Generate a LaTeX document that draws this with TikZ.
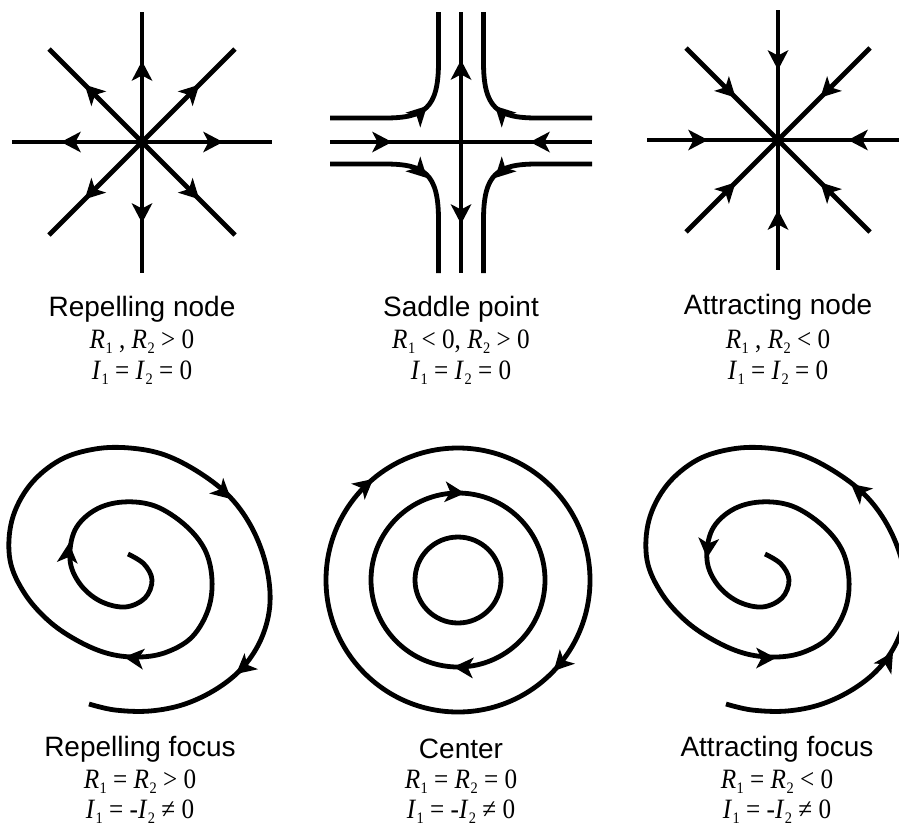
\documentclass[tikz,border=0pt]{standalone}
\usepackage{fontspec}
\setmainfont{Liberation Serif}
\newfontfamily\labelsans{Liberation Sans}
\newcommand{\sv}[2]{\textit{#1}\kern0.02em\raisebox{-0.2em}{\fontsize{16}{16}\selectfont #2}}
\newcommand{\cond}[1]{\scalebox{0.9}[1]{#1}}
\tikzset{
  flow/.style={line width=4.8pt},
  ahead/.pic={\fill (0,0) -- (-20,10.5) -- (-14.5,0) -- (-20,-10.5) -- cycle;},
  spiral/.pic={\draw[flow] plot[smooth, tension=0.6] coordinates {
    (-12,-26) (4,-16) (12,0) (5,18) (-15,27) (-40,21) (-60,4) (-70,-20) (-65,-50)
    (-45,-70) (-17,-78) (15,-74) (45,-55) (65,-30) (72,0) (68,30) (52,57) (27,72)
    (0,77) (-30,74) (-60,62) (-90,42) (-115,14) (-130,-20) (-128,-60) (-110,-95)
    (-80,-120) (-45,-131) (-10,-132) (25,-125) (60,-107) (90,-83) (112,-52)
    (126,-15) (130,23) (122,57) (104,86) (78,108) (45,124) (10,131) (-25,130) (-51,124)};},
  ttl/.style={anchor=base, inner sep=0pt, font=\labelsans\fontsize{28}{28}\selectfont},
  cnd/.style={anchor=base, inner sep=0pt, font=\fontsize{28}{28}\selectfont},
}
\begin{document}
\begin{tikzpicture}[x=1pt,y=-1pt]
\useasboundingbox (0,0) rectangle (899,828);
\clip (0,0) rectangle (899,828);

% ---------- Repelling node ----------
\coordinate (rn) at (142,142);
\draw[flow] (12,142) -- (272,142);
\draw[flow] (142,12) -- (142,273);
\draw[flow] (49,49) -- (235,235);
\draw[flow] (49,235) -- (235,49);
\pic[rotate=0]   at (223,142) {ahead};
\pic[rotate=45]  at (199.3,84.7) {ahead};
\pic[rotate=90]  at (142,61) {ahead};
\pic[rotate=135] at (84.7,84.7) {ahead};
\pic[rotate=180] at (61,142) {ahead};
\pic[rotate=225] at (84.7,199.3) {ahead};
\pic[rotate=270] at (142,223) {ahead};
\pic[rotate=315] at (199.3,199.3) {ahead};

% ---------- Saddle point ----------
\coordinate (sp) at (461,142);
\draw[flow] (461,12) -- (461,273);
\draw[flow] (330,142) -- (592,142);
\draw[flow] (330,118) -- (385,118) .. controls (425,118) and (438.5,108) .. (438.5,62) -- (438.5,12);
\draw[flow] (592,118) -- (537,118) .. controls (497,118) and (483.5,108) .. (483.5,62) -- (483.5,12);
\draw[flow] (330,164) -- (385,164) .. controls (425,164) and (438.5,174) .. (438.5,220) -- (438.5,273);
\draw[flow] (592,164) -- (537,164) .. controls (497,164) and (483.5,174) .. (483.5,220) -- (483.5,273);
\pic[rotate=90] at (461,60) {ahead};
\pic[rotate=-90] at (461,224) {ahead};
\pic at (392,142) {ahead};
\pic[rotate=180] at (530,142) {ahead};
\pic[rotate=45] at (427,106) {ahead};
\pic[rotate=135] at (495,106) {ahead};
\pic[rotate=-45] at (427,178) {ahead};
\pic[rotate=-135] at (495,178) {ahead};

% ---------- Attracting node ----------
\coordinate (an) at (778,140);
\draw[flow] (647,140) -- (909,140);
\draw[flow] (778,10) -- (778,270);
\draw[flow] (686,48) -- (870,232);
\draw[flow] (686,232) -- (870,48);
\pic[rotate=180] at (848,140) {ahead};
\pic[rotate=270] at (778,70) {ahead};
\pic[rotate=0]   at (708,140) {ahead};
\pic[rotate=90]  at (778,210) {ahead};
\pic[rotate=225] at (820.4,97.6) {ahead};
\pic[rotate=315] at (735.6,97.6) {ahead};
\pic[rotate=45]  at (735.6,182.4) {ahead};
\pic[rotate=135] at (820.4,182.4) {ahead};

% ---------- Repelling focus ----------
\pic at (140,580) {spiral};
\pic[rotate=-42] at (231,499) {ahead};
\pic[rotate=-140] at (236,674) {ahead};
\pic[rotate=174] at (124,657) {ahead};
\pic[rotate=85] at (69,543) {ahead};

% ---------- Center ----------
\coordinate (ce) at (458,580);
\draw[flow] (ce) circle[radius=43];
\draw[flow] (ce) circle[radius=87];
\draw[flow] (ce) circle[radius=132];
\pic[rotate=40]     at (373.2,478.9) {ahead};
\pic[rotate=-133.5] at (553.7,670.9) {ahead};
\pic[rotate=-4.5]   at (464.8,493.3) {ahead};
\pic[rotate=177]    at (453.4,666.9) {ahead};

% ---------- Attracting focus ----------
\pic at (777,580) {spiral};
\pic[rotate=-95] at (707,558) {ahead};
\pic[rotate=0] at (776,658) {ahead};
\pic[rotate=141] at (851,484) {ahead};
\pic[rotate=58] at (893,652) {ahead};

% ---------- Labels ----------
\node[ttl] (rnT) at (142,316) {Repelling node};
\node[cnd] (rnA) at (142,348) {\cond{\sv{R}{1} , \sv{R}{2} > 0}};
\node[cnd] (rnB) at (142,379) {\cond{\sv{I}{1} = \sv{I}{2} = 0}};
\node[ttl] (spT) at (461,316) {Saddle point};
\node[cnd] (spA) at (461,348) {\cond{\sv{R}{1} < 0, \sv{R}{2} > 0}};
\node[cnd] (spB) at (461,379) {\cond{\sv{I}{1} = \sv{I}{2} = 0}};
\node[ttl] (anT) at (778,314) {Attracting node};
\node[cnd] (anA) at (778,348) {\cond{\sv{R}{1} , \sv{R}{2} < 0}};
\node[cnd] (anB) at (778,379) {\cond{\sv{I}{1} = \sv{I}{2} = 0}};

\node[ttl] (rfT) at (140,756) {Repelling focus};
\node[cnd] (rfA) at (140,788) {\cond{\sv{R}{1} = \sv{R}{2} > 0}};
\node[cnd] (rfB) at (140,818) {\cond{\sv{I}{1} = -\sv{I}{2} ≠ 0}};
\node[ttl] (ceT) at (461,758) {Center};
\node[cnd] (ceA) at (461,788) {\cond{\sv{R}{1} = \sv{R}{2} = 0}};
\node[cnd] (ceB) at (461,818) {\cond{\sv{I}{1} = -\sv{I}{2} ≠ 0}};
\node[ttl] (afT) at (777,756) {Attracting focus};
\node[cnd] (afA) at (777,788) {\cond{\sv{R}{1} = \sv{R}{2} < 0}};
\node[cnd] (afB) at (777,818) {\cond{\sv{I}{1} = -\sv{I}{2} ≠ 0}};
\end{tikzpicture}
\end{document}
